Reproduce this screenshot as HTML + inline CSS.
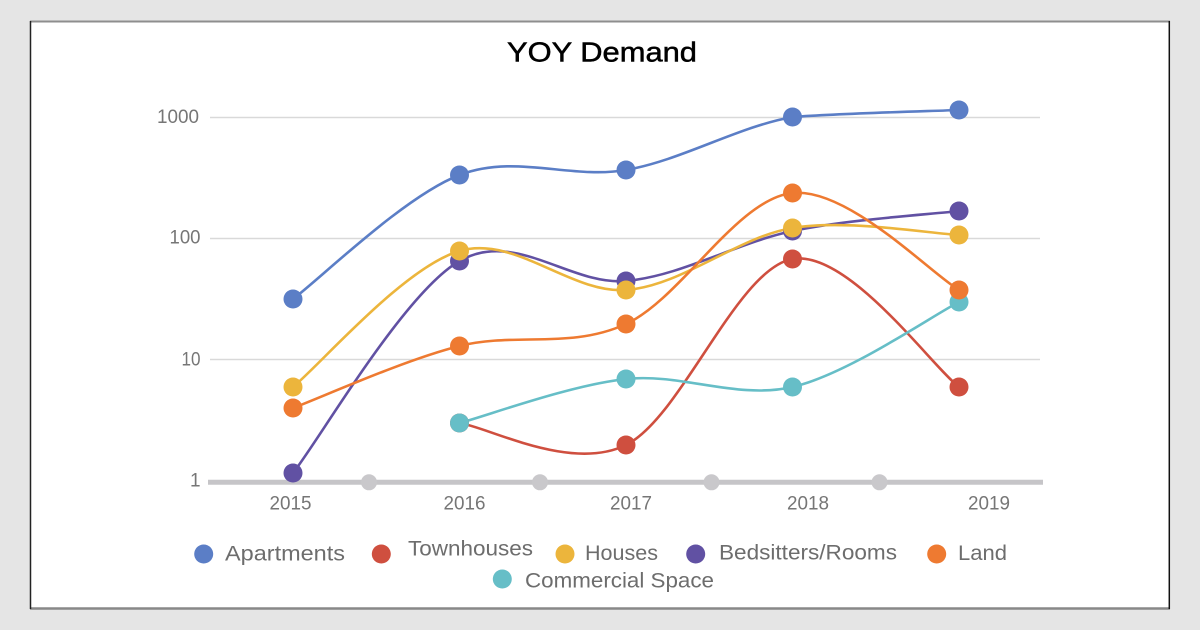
<!DOCTYPE html>
<html>
<head>
<meta charset="utf-8">
<style>
html,body{margin:0;padding:0;background:#e5e5e5;}
svg{display:block;}
text{font-family:"Liberation Sans",sans-serif;}
</style>
</head>
<body>
<svg width="1200" height="630" viewBox="0 0 1200 630" xmlns="http://www.w3.org/2000/svg">
  <rect x="0" y="0" width="1200" height="630" fill="#e5e5e5"/>
  <rect x="30" y="21" width="1140" height="588" fill="#ffffff"/>
  <line x1="30" y1="21.5" x2="1170" y2="21.5" stroke="#8e8e8e" stroke-width="2"/>
  <line x1="30" y1="608.5" x2="1170" y2="608.5" stroke="#888888" stroke-width="2.5"/>
  <line x1="30.5" y1="21" x2="30.5" y2="609" stroke="#222" stroke-width="1.5"/>
  <line x1="1169.3" y1="21" x2="1169.3" y2="609" stroke="#111" stroke-width="1.5"/>

  <!-- Title -->
  <text x="507" y="61.7" font-size="28" fill="#000" stroke="#000" stroke-width="0.5" textLength="190" lengthAdjust="spacingAndGlyphs">YOY Demand</text>

  <!-- Gridlines -->
  <g stroke="#d9d9d9" stroke-width="1.6">
    <line x1="210" y1="117.5" x2="1040" y2="117.5"/>
    <line x1="210" y1="238.5" x2="1040" y2="238.5"/>
    <line x1="210" y1="359.5" x2="1040" y2="359.5"/>
  </g>

  <!-- Y labels -->
  <g font-size="19" fill="#767676">
    <text x="157" y="123" textLength="42" lengthAdjust="spacingAndGlyphs">1000</text>
    <text x="169.5" y="243.5" textLength="31" lengthAdjust="spacingAndGlyphs">100</text>
    <text x="181.5" y="365.5" textLength="19" lengthAdjust="spacingAndGlyphs">10</text>
    <text x="190" y="486.5">1</text>
  </g>

  <!-- X axis -->
  <line x1="208" y1="482.3" x2="1043" y2="482.3" stroke="#c6c5c8" stroke-width="5"/>
  <g fill="#c9c8cb">
    <circle cx="369" cy="482.3" r="8"/>
    <circle cx="540" cy="482.3" r="8"/>
    <circle cx="711.5" cy="482.3" r="8"/>
    <circle cx="879.5" cy="482.3" r="8"/>
  </g>
  <g font-size="19" fill="#767676">
    <text x="269.5" y="509.3" textLength="42" lengthAdjust="spacingAndGlyphs">2015</text>
    <text x="443.5" y="509.3" textLength="42" lengthAdjust="spacingAndGlyphs">2016</text>
    <text x="610" y="509.3" textLength="42" lengthAdjust="spacingAndGlyphs">2017</text>
    <text x="787" y="509.3" textLength="42" lengthAdjust="spacingAndGlyphs">2018</text>
    <text x="968" y="509.3" textLength="42" lengthAdjust="spacingAndGlyphs">2019</text>
  </g>

  <!-- Series lines -->
  <g fill="none" stroke-width="2.6" stroke-linecap="round">
    <!-- Apartments -->
    <path stroke="#5b7ec6" d="M293,299 C320.75,278.3 404,196.5 459.5,175 C515,153.5 570.5,179.67 626,170 C681.5,160.33 737,127 792.5,117 C848,113 931.25,111.17 959,110"/>
    <!-- Townhouses -->
    <path stroke="#cf4f3f" d="M459.5,423 C487.25,426.67 570.5,472.33 626,445 C681.5,417.67 737,268.67 792.5,259 C848,249.33 931.25,365.67 959,387"/>
    <!-- Bedsitters -->
    <path stroke="#6151a3" d="M293,473 C320.75,437.67 404,293 459.5,261 C515,229 570.5,286 626,281 C681.5,276 737,242.67 792.5,231 C848,219.33 931.25,214.33 959,211"/>
    <!-- Houses -->
    <path stroke="#ecb53c" d="M293,387 C320.75,364.33 404,267.17 459.5,251 C515,234.83 570.5,293.83 626,290 C681.5,286.17 737,237.17 792.5,228 C848,218.83 931.25,233.83 959,235"/>
    <!-- Land -->
    <path stroke="#ee7a31" d="M293,408 C320.75,397.67 404,360 459.5,346 C515,332 570.5,349.5 626,324 C681.5,298.5 737,198.67 792.5,193 C848,187.33 931.25,273.83 959,290"/>
    <!-- Commercial -->
    <path stroke="#66bec7" d="M459.5,423 C487.25,415.67 570.5,385 626,379 C681.5,373 737,399.83 792.5,387 C848,374.17 931.25,316.17 959,302"/>
  </g>

  <!-- Markers -->
  <g fill="#6151a3">
    <circle cx="293" cy="473" r="9.5"/>
    <circle cx="459.5" cy="261" r="9.5"/>
    <circle cx="626" cy="281" r="9.5"/>
    <circle cx="792.5" cy="231" r="9.5"/>
    <circle cx="959" cy="211" r="9.5"/>
  </g>
  <g fill="#cf4f3f">
    <circle cx="459.5" cy="423" r="9.5"/>
    <circle cx="626" cy="445" r="9.5"/>
    <circle cx="792.5" cy="259" r="9.5"/>
    <circle cx="959" cy="387" r="9.5"/>
  </g>
  <g fill="#66bec7">
    <circle cx="459.5" cy="423" r="9.5"/>
    <circle cx="626" cy="379" r="9.5"/>
    <circle cx="792.5" cy="387" r="9.5"/>
    <circle cx="959" cy="302" r="9.5"/>
  </g>
  <g fill="#ee7a31">
    <circle cx="293" cy="408" r="9.5"/>
    <circle cx="459.5" cy="346" r="9.5"/>
    <circle cx="626" cy="324" r="9.5"/>
    <circle cx="792.5" cy="193" r="9.5"/>
    <circle cx="959" cy="290" r="9.5"/>
  </g>
  <g fill="#ecb53c">
    <circle cx="293" cy="387" r="9.5"/>
    <circle cx="459.5" cy="251" r="9.5"/>
    <circle cx="626" cy="290" r="9.5"/>
    <circle cx="792.5" cy="228" r="9.5"/>
    <circle cx="959" cy="235" r="9.5"/>
  </g>
  <g fill="#5b7ec6">
    <circle cx="293" cy="299" r="9.5"/>
    <circle cx="459.5" cy="175" r="9.5"/>
    <circle cx="626" cy="170" r="9.5"/>
    <circle cx="792.5" cy="117" r="9.5"/>
    <circle cx="959" cy="110" r="9.5"/>
  </g>

  <!-- Legend -->
  <circle cx="203.7" cy="554" r="9.5" fill="#5b7ec6"/>
  <circle cx="381.3" cy="554" r="9.5" fill="#cf4f3f"/>
  <circle cx="565" cy="554" r="9.5" fill="#ecb53c"/>
  <circle cx="695.7" cy="554" r="9.5" fill="#6151a3"/>
  <circle cx="936.7" cy="554" r="9.5" fill="#ee7a31"/>
  <circle cx="502.3" cy="579" r="9.5" fill="#66bec7"/>
  <g font-size="21" fill="#6d6d6d">
    <text x="225" y="560.5" textLength="120" lengthAdjust="spacingAndGlyphs">Apartments</text>
    <text x="408" y="555.7" textLength="125" lengthAdjust="spacingAndGlyphs">Townhouses</text>
    <text x="585" y="560" textLength="73" lengthAdjust="spacingAndGlyphs">Houses</text>
    <text x="719" y="559.5" textLength="178" lengthAdjust="spacingAndGlyphs">Bedsitters/Rooms</text>
    <text x="958" y="560" textLength="49" lengthAdjust="spacingAndGlyphs">Land</text>
    <text x="525" y="587.3" textLength="189" lengthAdjust="spacingAndGlyphs">Commercial Space</text>
  </g>
</svg>
</body>
</html>
